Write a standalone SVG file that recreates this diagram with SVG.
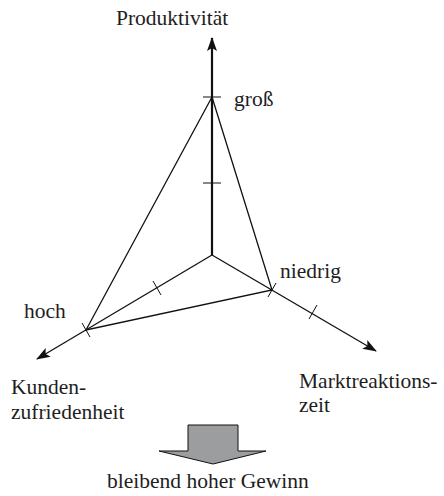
<svg xmlns="http://www.w3.org/2000/svg" width="444" height="496" viewBox="0 0 444 496">
  <style>
    .lbl { font-size: 21.5px; fill: #1e1e1e; }
    .axis { stroke: #111; stroke-width: 1.3; fill: none; }
    .axis-main { stroke: #111; stroke-width: 2.2; fill: none; }
    .edge { stroke: #111; stroke-width: 1.3; fill: none; }
    .tick { stroke: #111; stroke-width: 1; fill: none; }
  </style>
  <defs>
    <marker id="head" viewBox="0 0 14 10" refX="13" refY="5" markerWidth="14" markerHeight="10" markerUnits="userSpaceOnUse" orient="auto">
      <path d="M0,0 L14,5 L0,10 L3,5 Z" fill="#111"/>
    </marker>
  </defs>

  <g id="connectors">
    <!-- axes -->
    <line class="axis-main" x1="212" y1="255" x2="212" y2="38" marker-end="url(#head)"/>
    <line class="axis" x1="212" y1="255" x2="37" y2="359" marker-end="url(#head)"/>
    <line class="axis" x1="212" y1="255" x2="376" y2="351" marker-end="url(#head)"/>
    <!-- triangle -->
    <polyline class="edge" points="212,97 86,330 272,290 212,97"/>
    <!-- scale ticks -->
    <line class="tick" x1="203" y1="97" x2="221" y2="97"/>
    <line class="tick" x1="203" y1="183" x2="221" y2="183"/>
    <line class="tick" x1="82" y1="323" x2="90" y2="337"/>
    <line class="tick" x1="153" y1="281" x2="161" y2="295"/>
    <line class="tick" x1="276" y1="283" x2="268" y2="297"/>
    <line class="tick" x1="317" y1="305" x2="309" y2="319"/>
  </g>

  <g font-family="'Liberation Serif', 'Times New Roman', Times, 'DejaVu Serif', serif">
    <g id="produktivitaet"><text class="lbl" x="116" y="25">Produktivität</text></g>
    <g id="gross"><text class="lbl" x="234" y="106">groß</text></g>
    <g id="niedrig"><text class="lbl" x="280" y="278">niedrig</text></g>
    <g id="hoch"><text class="lbl" x="24" y="318">hoch</text></g>
    <g id="kundenzufriedenheit">
      <text class="lbl" x="11" y="394">Kunden-</text>
      <text class="lbl" x="11" y="419">zufriedenheit</text>
    </g>
    <g id="marktreaktionszeit">
      <text class="lbl" x="299" y="388">Marktreaktions-</text>
      <text class="lbl" x="299" y="412">zeit</text>
    </g>
    <g id="gewinn"><text class="lbl" x="107" y="488">bleibend hoher Gewinn</text></g>
  </g>

  <g id="ergebnis-pfeil">
    <polygon points="188,425 238,425 238,451 266,451 213,464 159,451 188,451" fill="#9b9d9f" stroke="#111" stroke-width="1"/>
  </g>
</svg>
